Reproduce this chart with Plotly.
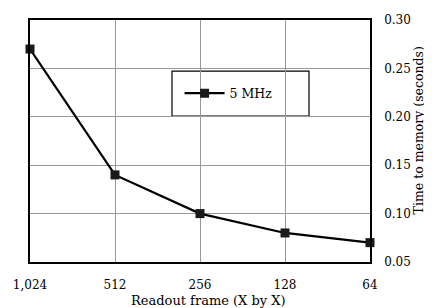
import plotly.graph_objects as go

categories = ["1,024", "512", "256", "128", "64"]
time_5mhz = [0.27, 0.14, 0.10, 0.08, 0.07]
y_ticks = [0.05, 0.10, 0.15, 0.20, 0.25, 0.30]
x_title = "Readout frame (X by X)"
y_title = "Time to memory (seconds)"

FONT = "DejaVu Serif"

fig = go.Figure()
fig.add_trace(go.Scatter(
    x=categories, y=time_5mhz, mode="lines+markers", name="5 MHz",
    line=dict(color="black", width=2.2),
    marker=dict(symbol="square", size=9, color="#1a1a1a"),
    cliponaxis=False,
))

fig.add_shape(type="rect", xref="paper", yref="paper",
              x0=0.4176, x1=0.8206, y0=0.603, y1=0.789,
              line=dict(color="black", width=1.2), fillcolor="white", layer="below")

fig.add_annotation(text=x_title, xref="paper", yref="paper", x=0.525, y=-0.161,
                   showarrow=False, xanchor="center", yanchor="middle",
                   font=dict(family=FONT, size=13, color="black"))
fig.add_annotation(text=y_title, xref="paper", yref="paper", x=1.142, y=0.545,
                   showarrow=False, xanchor="center", yanchor="middle", textangle=-90,
                   font=dict(family=FONT, size=12.5, color="black"))

# page body has an 8px margin, so the figure is shrunk and shifted accordingly
fig.update_layout(
    width=424, height=300,
    margin=dict(l=22, r=62, t=12, b=46, autoexpand=False),
    paper_bgcolor="white", plot_bgcolor="white",
    font=dict(family=FONT, size=12, color="black"),
    showlegend=True,
    legend=dict(x=0.44, y=0.696, xanchor="left", yanchor="middle",
                bgcolor="rgba(0,0,0,0)", borderwidth=0,
                font=dict(family=FONT, size=12.5, color="black"),
                itemwidth=40),
    xaxis=dict(type="category", range=[0, 4], showgrid=True, gridcolor="#999999",
               gridwidth=1, showline=True, linecolor="black", linewidth=1.5,
               mirror=True, ticks="", ticklabelstandoff=11, automargin=False,
               tickfont=dict(family=FONT, size=12)),
    yaxis=dict(side="right", range=[0.05, 0.30], tickvals=y_ticks,
               tickformat=".2f", showgrid=True, gridcolor="#999999", gridwidth=1,
               showline=True, linecolor="black", linewidth=1.5, mirror=True,
               ticks="", ticklabelstandoff=10, zeroline=False, automargin=False,
               tickfont=dict(family=FONT, size=12)),
)

fig.write_html("out.html")
